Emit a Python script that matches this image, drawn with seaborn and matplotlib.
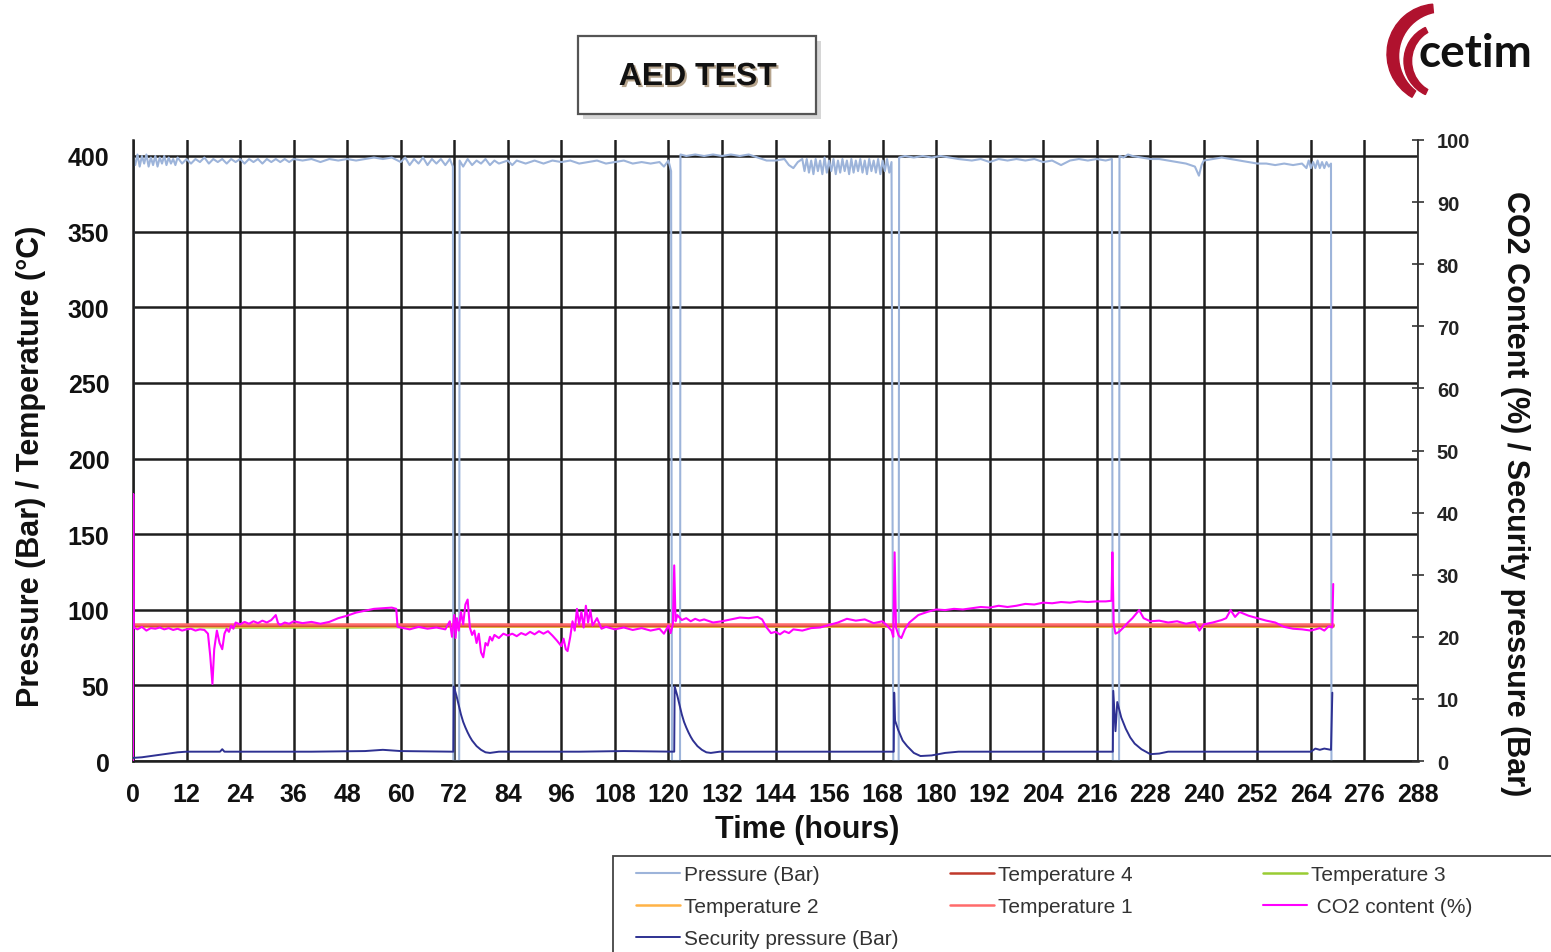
import matplotlib
matplotlib.use("Agg")
import matplotlib.pyplot as plt
import matplotlib.patheffects as pe
from matplotlib.patches import Rectangle, Wedge, Circle
import pandas as pd
import seaborn as sns

# ---------------- data ----------------
x_ticks = [0, 12, 24, 36, 48, 60, 72, 84, 96, 108, 120, 132, 144, 156, 168,
           180, 192, 204, 216, 228, 240, 252, 264, 276, 288]
left_ticks = [0, 50, 100, 150, 200, 250, 300, 350, 400]
right_ticks = [0, 10, 20, 30, 40, 50, 60, 70, 80, 90, 100]

# (hour, bar)
pressure_readings = [
    (0.0, 0), (0.1, 399), (0.5, 394), (1.0, 401), (1.5, 393), (2.0, 400), (2.5, 395), (3.0, 401),
    (3.5, 393), (4.0, 399), (4.5, 394), (5.0, 400), (5.5, 393), (6.0, 399), (6.5, 395), (7.0, 400),
    (7.5, 394), (8.0, 399), (8.5, 395), (9.0, 398), (9.5, 394), (10.0, 399), (11.0, 395), (12.0, 398),
    (13.0, 395), (14.0, 398), (15.0, 396), (16.0, 399), (17.0, 395), (18.0, 398), (19.0, 396),
    (20.0, 398), (21.0, 395), (22.0, 398), (23.0, 396), (24.0, 398), (25.0, 395), (26.0, 398),
    (27.0, 396), (28.0, 398), (29.0, 395), (30.0, 398), (31.0, 396), (32.0, 398), (33.0, 396),
    (34.0, 398), (35.0, 396), (36.0, 398), (38.0, 397), (40.0, 398), (42.0, 396), (44.0, 398),
    (46.0, 397), (48.0, 398), (50.0, 397), (52.0, 398), (54.0, 399), (56.0, 398), (58.0, 399),
    (60.0, 396), (61.0, 399), (62.0, 394), (63.0, 398), (64.0, 395), (65.0, 399), (66.0, 394),
    (67.0, 398), (68.0, 395), (69.0, 398), (70.0, 394), (71.0, 398), (71.7, 393), (71.8, 0),
    (73.1, 0), (73.2, 397), (74.0, 393), (75.0, 398), (76.0, 394), (77.0, 397), (78.0, 395),
    (79.0, 398), (80.0, 394), (81.0, 397), (82.0, 395), (84.0, 397), (85.0, 394), (86.0, 397),
    (88.0, 395), (90.0, 397), (92.0, 395), (94.0, 397), (96.0, 396), (98.0, 397), (100.0, 395),
    (102.0, 396), (104.0, 397), (106.0, 395), (108.0, 396), (110.0, 397), (112.0, 395),
    (114.0, 396), (116.0, 395), (118.0, 396), (119.0, 393), (120.0, 397), (120.6, 390),
    (120.8, 0), (122.6, 0), (122.7, 401), (124.0, 400), (126.0, 401), (128.0, 400), (130.0, 401),
    (132.0, 400), (134.0, 401), (136.0, 400), (138.0, 401), (140.0, 399), (142.0, 397),
    (144.0, 397), (146.0, 398), (147.0, 394), (148.0, 392), (149.0, 396), (150.0, 398),
    (150.5, 390), (151.0, 398), (151.5, 389), (152.0, 397), (152.5, 388), (153.0, 398),
    (153.5, 390), (154.0, 397), (154.5, 388), (155.0, 399), (155.5, 389), (156.0, 397),
    (156.5, 390), (157.0, 398), (157.5, 388), (158.0, 397), (158.5, 389), (159.0, 398),
    (159.5, 390), (160.0, 397), (160.5, 388), (161.0, 398), (161.5, 389), (162.0, 397),
    (162.5, 390), (163.0, 398), (163.5, 389), (164.0, 397), (164.5, 388), (165.0, 398),
    (165.5, 390), (166.0, 397), (166.5, 389), (167.0, 398), (167.5, 388), (168.0, 397),
    (168.5, 390), (169.0, 398), (169.5, 389), (170.0, 396),
    (170.4, 0), (171.6, 0), (171.7, 399), (173.0, 400), (175.0, 399), (177.0, 400), (179.0, 399),
    (181.0, 400), (183.0, 399), (185.0, 398), (188.0, 397), (190.0, 398), (192.0, 396),
    (194.0, 398), (196.0, 397), (198.0, 398), (200.0, 397), (202.0, 398), (204.0, 396),
    (206.0, 397), (208.0, 394), (210.0, 397), (212.0, 398), (214.0, 397), (216.0, 398),
    (218.0, 397), (219.4, 398), (219.6, 0), (221.0, 0), (221.1, 400), (222.0, 399), (223.0, 401),
    (224.0, 400), (226.0, 399), (228.0, 398), (230.0, 398), (232.0, 397), (234.0, 396),
    (236.0, 395), (238.0, 393), (238.9, 387), (239.5, 394), (240.0, 397), (242.0, 398),
    (244.0, 399), (246.0, 398), (248.0, 397), (250.0, 396), (252.0, 395), (254.0, 395),
    (256.0, 394), (258.0, 395), (260.0, 394), (262.0, 395), (263.0, 392), (263.5, 397),
    (264.0, 392), (264.5, 396), (265.0, 392), (265.5, 397), (266.0, 392), (266.5, 396),
    (267.0, 392), (267.5, 396), (268.0, 393), (268.5, 395), (268.6, 0),
]

temp_hours = [0, 24, 48, 72, 120, 170, 220, 269]
temperature_1 = [90.5, 90.5, 90.5, 90.5, 90.5, 90.5, 90.5, 90.5]
temperature_4 = [90.0, 90.0, 90.0, 90.0, 90.0, 90.0, 90.0, 90.0]
temperature_2 = [89.3, 89.3, 89.3, 89.3, 89.3, 89.3, 89.3, 89.3]
temperature_3 = [88.8, 88.3, 88.3, 88.8, 88.8, 88.8, 88.8, 88.8]

# (hour, %)
co2_readings = [
    (0.0, 0.0), (0.05, 43.0), (0.15, 21.5), (1, 21.2), (2, 21.6), (3, 21.0), (4, 21.4), (5, 21.3),
    (6, 21.5), (7, 21.2), (8, 21.4), (9, 21.1), (10, 21.3), (11, 21.0), (12, 21.2), (13, 21.3),
    (14, 21.0), (15, 21.2), (16, 21.1), (16.8, 20.5), (17.3, 17.0), (17.8, 12.4), (18.2, 18.0),
    (18.8, 21.0), (19.4, 19.0), (20, 18.0), (20.5, 20.5), (21, 21.3), (21.5, 20.8), (22, 21.8),
    (22.5, 21.3), (23, 22.3), (24, 22.0), (25, 22.4), (26, 22.1), (27, 22.5), (28, 22.2),
    (29, 22.6), (30, 22.3), (31, 22.7), (32, 23.5), (32.5, 22.2), (33, 21.9), (34, 22.3),
    (35, 22.1), (36, 22.5), (38, 22.2), (40, 22.4), (42, 22.1), (44, 22.4), (46, 23.0),
    (48, 23.4), (50, 23.9), (52, 24.2), (54, 24.5), (56, 24.6), (58, 24.7), (59, 24.5),
    (59.3, 21.6), (60, 21.5), (62, 21.2), (64, 21.6), (66, 21.3), (68, 21.5), (70, 21.2),
    (71, 22.5), (71.5, 20.0), (72, 23.5), (72.3, 19.8), (72.6, 23.0), (73, 21.0), (73.5, 24.0),
    (74, 22.0), (74.5, 25.2), (75, 26.0), (75.5, 21.5), (76, 20.3), (76.5, 21.0), (77, 19.0),
    (77.5, 20.5), (78, 17.5), (78.5, 16.7), (79, 19.0), (79.5, 18.6), (80, 20.0), (80.5, 19.4),
    (81, 20.3), (82, 19.8), (83, 20.5), (84, 20.2), (85, 20.5), (86, 20.1), (87, 20.6),
    (88, 20.3), (89, 20.8), (90, 20.4), (91, 20.9), (92, 20.5), (93, 20.9), (94, 20.2),
    (95, 19.4), (96, 18.5), (96.5, 19.7), (97, 18.0), (97.4, 17.7), (98, 20.0), (98.5, 22.5),
    (99, 21.0), (99.5, 24.5), (100, 22.0), (100.5, 24.0), (101, 21.5), (101.5, 25.0),
    (102, 22.3), (102.5, 24.3), (103, 21.8), (104, 23.0), (105, 21.3), (106, 21.6), (108, 21.2),
    (110, 21.5), (112, 21.1), (114, 21.4), (116, 21.0), (118, 21.3), (119, 20.5), (120, 21.8),
    (120.5, 20.6), (121, 22.0), (121.3, 31.5), (121.6, 22.5), (122, 23.5), (123, 22.7),
    (124, 23.0), (125, 22.5), (126, 22.9), (127, 22.6), (128, 22.8), (130, 22.3), (132, 22.5),
    (134, 22.8), (136, 23.1), (138, 23.0), (140, 23.2), (141, 22.8), (142, 21.5), (143, 20.6),
    (144, 20.8), (145, 20.4), (146, 20.9), (147, 20.6), (148, 21.2), (150, 21.0), (152, 21.4),
    (154, 21.5), (156, 21.9), (158, 22.3), (160, 22.9), (162, 22.6), (164, 22.8), (166, 22.2),
    (168, 22.5), (169, 21.8), (170, 21.0), (170.4, 20.0), (170.7, 33.6), (171, 21.5),
    (171.6, 20.2), (172.2, 19.8), (173, 21.2), (174, 22.3), (175, 22.9), (176, 23.5),
    (178, 24.0), (180, 24.4), (182, 24.3), (184, 24.5), (186, 24.4), (188, 24.6), (190, 24.8),
    (192, 24.7), (194, 25.0), (196, 24.8), (198, 25.0), (200, 25.3), (202, 25.2), (204, 25.5),
    (206, 25.4), (208, 25.6), (210, 25.5), (212, 25.7), (214, 25.6), (216, 25.7), (218, 25.7),
    (219.3, 25.8), (219.5, 33.6), (219.8, 22.0), (220.2, 20.5), (221, 20.8), (222, 21.5),
    (223, 22.3), (224, 23.0), (225.5, 24.3), (226.5, 23.0), (228, 22.5), (230, 22.6),
    (232, 22.3), (234, 22.5), (236, 22.1), (238, 22.4), (239, 21.0), (240, 22.0), (242, 22.3),
    (244, 22.7), (245, 23.0), (246, 24.3), (247, 23.2), (248, 24.0), (250, 23.4), (252, 23.0),
    (254, 22.6), (256, 22.3), (258, 21.6), (260, 21.3), (262, 21.2), (264, 21.0), (266, 21.4),
    (267, 21.0), (268, 21.7), (268.8, 21.5), (269, 28.5),
]

# (hour, bar)
security_readings = [
    (0.0, 0.5), (2.0, 0.6), (4.0, 0.8), (6.0, 1.0), (8.0, 1.2), (10.0, 1.4), (12.0, 1.5),
    (19.5, 1.5), (20.0, 1.9), (20.5, 1.5), (40.0, 1.5), (52.0, 1.6), (56.0, 1.8), (60.0, 1.6),
    (71.8, 1.5), (71.9, 12.0), (72.5, 10.5), (73.0, 9.0), (73.5, 7.5), (74.0, 6.3), (74.5, 5.4),
    (75.0, 4.6), (75.5, 3.9), (76.0, 3.3), (77.0, 2.4), (78.0, 1.8), (79.0, 1.4), (80.0, 1.3),
    (81.0, 1.4), (82.0, 1.5), (100.0, 1.5), (110.0, 1.6), (121.3, 1.5),
    (121.4, 12.0), (122.0, 10.5), (122.5, 9.0), (123.0, 7.5), (123.5, 6.3), (124.0, 5.4),
    (124.5, 4.6), (125.0, 3.9), (125.5, 3.3), (126.5, 2.4), (127.5, 1.8), (128.5, 1.4),
    (129.5, 1.3), (130.5, 1.4), (131.5, 1.5), (170.5, 1.5),
    (170.6, 11.0), (170.8, 6.5), (171.5, 5.0), (172.5, 3.3), (173.5, 2.4), (175.0, 1.3),
    (176.5, 0.8), (179.0, 0.9), (182.0, 1.3), (185.0, 1.5), (219.6, 1.5),
    (219.7, 11.3), (220.2, 4.8), (220.6, 9.5), (221.5, 7.0), (222.5, 5.2), (223.5, 3.8),
    (224.5, 2.8), (226.0, 1.9), (228.0, 1.1), (230.0, 1.2), (232.0, 1.5), (264.0, 1.5),
    (265.0, 2.0), (266.0, 1.8), (267.0, 2.0), (268.5, 1.8), (268.8, 11.0),
]

labels = {
    "pressure": "Pressure (Bar)", "t4": "Temperature 4", "t3": "Temperature 3",
    "t2": "Temperature 2", "t1": "Temperature 1", "co2": " CO2 content (%)",
    "sec": "Security pressure (Bar)",
}
colors = {
    "pressure": "#9db4da", "t4": "#c0392b", "t3": "#99cc33", "t2": "#ffb347",
    "t1": "#ff6b6b", "co2": "#ff00ff", "sec": "#2e3192",
}

# ---------------- figure ----------------
sns.set_style("white")
plt.rcParams["font.family"] = ["Liberation Sans", "DejaVu Sans"]
W, H = 1551, 953


def fx(px):
    return px / W


def fy(py):
    return 1 - py / H


fig = plt.figure(figsize=(W / 100, H / 100), dpi=100)
ax = fig.add_axes([fx(133), fy(762), (1418 - 133) / W, (762 - 141) / H])
ax2 = ax.twinx()

p_df = pd.DataFrame(pressure_readings, columns=["hours", "value"])
co2_df = pd.DataFrame(co2_readings, columns=["hours", "value"])
sec_df = pd.DataFrame(security_readings, columns=["hours", "value"])
temp_df = pd.DataFrame({"hours": temp_hours, "t1": temperature_1, "t2": temperature_2,
                        "t3": temperature_3, "t4": temperature_4})

handles = {}
common = dict(estimator=None, sort=False, legend=False)
sns.lineplot(data=p_df, x="hours", y="value", ax=ax, color=colors["pressure"], lw=1.5,
             label=labels["pressure"], **common)
handles["pressure"] = ax.lines[-1]
for key in ["t3", "t2", "t4", "t1"]:
    sns.lineplot(data=temp_df, x="hours", y=key, ax=ax, color=colors[key], lw=1.8,
                 label=labels[key], **common)
    handles[key] = ax.lines[-1]
sns.lineplot(data=co2_df, x="hours", y="value", ax=ax2, color=colors["co2"], lw=1.5,
             label=labels["co2"], **common)
handles["co2"] = ax2.lines[-1]
sns.lineplot(data=sec_df, x="hours", y="value", ax=ax2, color=colors["sec"], lw=1.4,
             label=labels["sec"], **common)
handles["sec"] = ax2.lines[-1]

grid_c = "#1e1e1e"
ax.set_xlim(0, 288)
ax.set_ylim(0, 400 * 621 / 605)
ax2.set_ylim(0, 100)
ax.set_xticks(x_ticks)
ax.set_xticklabels([str(t) for t in x_ticks], fontsize=18, fontweight="bold")
ax.set_yticks(left_ticks)
ax.set_yticklabels([str(t) for t in left_ticks], fontsize=18, fontweight="bold")
ax2.set_yticks(right_ticks)
ax2.set_yticklabels([str(t) for t in right_ticks], fontsize=14.5, fontweight="bold",
                    color="#222222")
ax.grid(True, color=grid_c, linewidth=1.8)
ax.set_axisbelow(True)
ax2.grid(False)

ax.tick_params(axis="x", direction="out", length=6, width=1.6, color=grid_c, pad=9,
               labelcolor="#111111")
ax.tick_params(axis="y", length=0, pad=17, labelcolor="#111111")
ax2.tick_params(axis="y", direction="inout", length=9, width=1.2, color="#333333", pad=9)

for s in ["top", "right"]:
    ax.spines[s].set_visible(False)
for s in ["left", "bottom"]:
    ax.spines[s].set_color(grid_c)
    ax.spines[s].set_linewidth(1.8)
for s in ["top", "left", "bottom"]:
    ax2.spines[s].set_visible(False)
ax2.spines["right"].set_color("#333333")
ax2.spines["right"].set_linewidth(1.3)

ax.set_xlabel("Time (hours)", fontsize=22, fontweight="bold", color="#111111")
ax.xaxis.label.set_va("center")
ax.xaxis.set_label_coords(0.525, -0.11)
ax.set_ylabel("Pressure (Bar) / Temperature (°C)", fontsize=22, fontweight="bold",
              color="#111111")
ax.yaxis.label.set_va("center")
ax.yaxis.set_label_coords(-0.0795, 0.4767)
ax2.set_ylabel("CO2 Content (%) / Security pressure (Bar)", fontsize=22, fontweight="bold",
               color="#111111", rotation=-90)
ax2.yaxis.label.set_va("center")
ax2.yaxis.set_label_coords(1.0755, 0.432)
ax2.set_xlabel("")

# ---------------- title box ----------------
fig.add_artist(Rectangle((fx(583), fy(120)), (816 - 578) / W, (115 - 37) / H,
                         transform=fig.transFigure, facecolor="#d6d6d6", edgecolor="none",
                         zorder=1))
fig.add_artist(Rectangle((fx(578), fy(115)), (816 - 578) / W, (115 - 37) / H,
                         transform=fig.transFigure, facecolor="white", edgecolor="#555555",
                         lw=1.6, zorder=2))
fig.text(fx(698), fy(78), "AED TEST", fontsize=23, fontweight="bold", color="#111111",
         ha="center", va="center", zorder=3,
         path_effects=[pe.withSimplePatchShadow(offset=(1.5, -1.5), shadow_rgbFace="#7a5a30",
                                                alpha=0.55)])

# ---------------- logo ----------------
lax = fig.add_axes([fx(1370), fy(110), 181 / W, 110 / H])
lax.set_xlim(1370, 1551)
lax.set_ylim(H - 110, H)
lax.axis("off")
red = "#b0122e"
lax.add_patch(Wedge((1437, 898), 50, 95, 240, color=red))
lax.add_patch(Circle((1443, 896), 43, color="white"))
lax.add_patch(Wedge((1441, 891), 37, 115, 245, color=red))
lax.add_patch(Circle((1445, 891), 32, color="white"))
lax.text(1419, 886, "cetim", fontsize=33, fontweight="bold", family=["Lato", "DejaVu Sans"],
         color="#111111", ha="left", va="baseline")

# ---------------- legend ----------------
fig.add_artist(Rectangle((fx(613), fy(970)), (1570 - 613) / W, (970 - 857) / H,
                         transform=fig.transFigure, fill=False, edgecolor="#444444", lw=1.3))
legend_columns = [(636, ["pressure", "t2", "sec"]), (950, ["t4", "t1"]), (1263, ["t3", "co2"])]
for xpix, keys in legend_columns:
    fig.legend([handles[k] for k in keys], [labels[k] for k in keys], loc="upper left",
               bbox_to_anchor=(fx(xpix), fy(866)), frameon=False, fontsize=15,
               handlelength=2.1, handletextpad=0.2, labelspacing=0.62, borderpad=0,
               borderaxespad=0, labelcolor="#333333")

fig.savefig("out.png", dpi=100)
